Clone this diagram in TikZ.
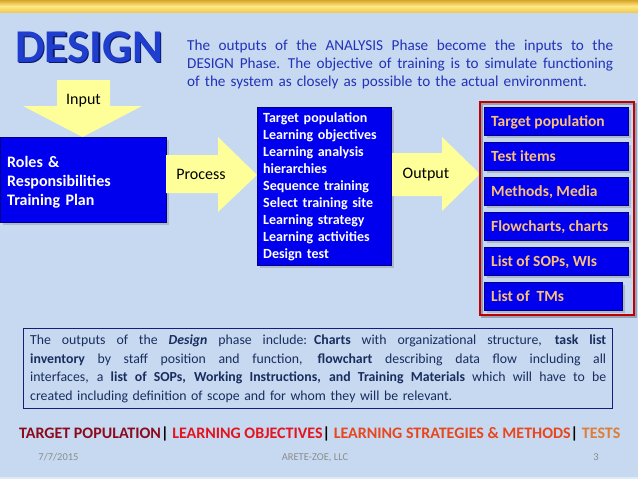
\documentclass[tikz,border=0pt]{standalone}
\usepackage{fontspec}
\setmainfont{Carlito}
\usetikzlibrary{shadows}
\definecolor{bgblue}{RGB}{198,217,240}
\definecolor{boxblue}{RGB}{0,0,238}
\definecolor{boxedge}{RGB}{0,0,140}
\definecolor{arrowyellow}{RGB}{255,255,153}
\definecolor{titleblue}{RGB}{32,62,205}
\definecolor{titledark}{RGB}{10,25,110}
\definecolor{paratext}{RGB}{35,50,185}
\definecolor{navytext}{RGB}{25,45,95}
\definecolor{navyedge}{RGB}{20,30,120}
\definecolor{outtext}{RGB}{250,192,120}
\definecolor{framered}{RGB}{192,0,0}
\definecolor{darkred}{RGB}{140,10,30}
\definecolor{brightred}{RGB}{228,20,30}
\definecolor{orangered}{RGB}{232,70,30}
\definecolor{tanorange}{RGB}{222,125,55}
\definecolor{footgray}{RGB}{140,140,140}
\definecolor{goldtop}{RGB}{215,165,40}
\definecolor{goldmid}{RGB}{255,232,130}
\definecolor{goldbot}{RGB}{240,205,90}
\newcommand{\jl}[2]{\leavevmode\hbox to #1{\spaceskip=\fontdimen2\font plus 1fil\relax #2}}
\begin{document}
\begin{tikzpicture}[x=1pt,y=-1pt,
  bluebox/.style={draw=boxedge, line width=0.6pt, fill=boxblue, inner sep=0pt,
    drop shadow={shadow xshift=2.5pt, shadow yshift=-2.5pt, opacity=0.35}},
  outbox/.style={bluebox, minimum height=28pt, anchor=north west},
  outlabel/.style={anchor=base west, inner sep=0pt, text=outtext,
    font=\fontsize{15.5}{18}\selectfont\bfseries},
  yarrow/.style={fill=arrowyellow, draw=none},
  arrowlabel/.style={anchor=base, inner sep=0pt, font=\fontsize{16}{19}\selectfont},
  whitetext/.style={anchor=base west, inner sep=0pt, text=white, align=left},
  footer/.style={anchor=base, inner sep=0pt, text=footgray, font=\fontsize{10.5}{12}\selectfont}
]
\useasboundingbox (0,0) rectangle (638,479);
\fill[bgblue] (0,0) rectangle (638,479);
% top band
\shade[top color=goldtop, bottom color=goldbot, middle color=goldmid] (0,0) rectangle (638,12);
\fill[white, opacity=0.45] (0,476.5) rectangle (638,479);

% title
\node[anchor=base west, inner sep=0pt, text=titledark, font=\fontsize{47}{50}\selectfont\bfseries] (titleshadow) at (16.6,63.6) {DESIGN};
\node[anchor=base west, inner sep=0pt, text=titleblue, font=\fontsize{47}{50}\selectfont\bfseries] (title) at (15,62) {DESIGN};

% top paragraph
\node[anchor=base west, inner sep=0pt, text width=426pt, align=left, text=paratext,
  font=\fontsize{15.2}{18}\selectfont] (intro) at (187,50.5)
  {\jl{426pt}{The outputs of the ANALYSIS Phase become the inputs to the}\\
   \jl{426pt}{DESIGN Phase. The objective of training is to simulate functioning}\\
   of the system as closely as possible to the actual environment.};

% input arrow
\fill[yarrow] (57,80) -- (110,80) -- (110,106) -- (142,106) -- (82.5,137) -- (23,106) -- (57,106) -- cycle;
\node[arrowlabel] (inputlbl) at (83.5,104.5) {Input};

% roles box
\node[bluebox, minimum width=166pt, minimum height=85pt, anchor=north west] (roles) at (0,137) {};
\node[whitetext, text width=155pt, font=\fontsize{16}{19}\selectfont\bfseries] (rolestext) at (7,167)
  {Roles \&\\Responsibilities\\Training Plan};

% process arrow
\fill[yarrow] (166,155) -- (218,155) -- (218,137) -- (257,175) -- (218,212) -- (218,193) -- (166,193) -- cycle;
\node[arrowlabel] (processlbl) at (201,179) {Process};

% middle box
\node[bluebox, minimum width=134pt, minimum height=158pt, anchor=north west] (tasks) at (257,107) {};
\node[whitetext, text width=126pt, font=\fontsize{14}{17}\selectfont\bfseries] (taskstext) at (263,122.7)
  {Target population\\Learning objectives\\Learning analysis\\hierarchies\\Sequence training\\Select training site\\Learning strategy\\Learning activities\\Design test};

% output arrow
\fill[yarrow] (392,153) -- (442,153) -- (442,137) -- (480,174) -- (442,211) -- (442,196) -- (392,196) -- cycle;
\node[arrowlabel] (outputlbl) at (426,178) {Output};

% red frame and outputs
\draw[black, opacity=0.25, line width=1.5pt] (482,104) rectangle (636,317);
\draw[framered, line width=1.3pt] (480,102) rectangle (634,315);
\node[outbox, minimum width=144pt] (o1) at (484,107) {};
\node[outbox, minimum width=144pt] (o2) at (484,142) {};
\node[outbox, minimum width=144pt] (o3) at (484,177) {};
\node[outbox, minimum width=144pt] (o4) at (484,212) {};
\node[outbox, minimum width=144pt] (o5) at (484,247) {};
\node[outbox, minimum width=138pt] (o6) at (484,282) {};
\node[outlabel] (t1) at (491,126.5) {Target population};
\node[outlabel] (t2) at (491,161.5) {Test items};
\node[outlabel] (t3) at (491,196.5) {Methods, Media};
\node[outlabel] (t4) at (491,231.5) {Flowcharts, charts};
\node[outlabel] (t5) at (491,266.5) {List of SOPs, WIs};
\node[outlabel] (t6) at (491,301.5) {List of~~TMs};

% bottom paragraph
\draw[navyedge, line width=0.8pt] (23,328) rectangle (612,408);
\node[anchor=base west, inner sep=0pt, text width=576pt, align=left, text=navytext,
  font=\fontsize{13.8}{18.7}\selectfont] (summary) at (30,344.5)
  {\jl{576pt}{The outputs of the \textbf{\textit{Design}} phase include: \textbf{Charts} with organizational structure, \textbf{task list}}\\
   \jl{576pt}{\textbf{inventory} by staff position and function, \textbf{flowchart} describing data flow including all}\\
   \jl{576pt}{interfaces, a \textbf{list of SOPs, Working Instructions, and Training Materials} which will have to be}\\
   created including definition of scope and for whom they will be relevant.};

% keywords line
\node[anchor=base west, inner sep=0pt, font=\fontsize{16}{19}\selectfont\bfseries] (keywords) at (19,438.5)
  {\textcolor{darkred}{TARGET POPULATION}\textcolor{black}{|} \textcolor{brightred}{LEARNING OBJECTIVES}\textcolor{black}{|} \textcolor{orangered}{LEARNING STRATEGIES \& METHODS}\textcolor{black}{|} \textcolor{tanorange}{TESTS}};

% footer
\node[footer] (date) at (58.5,460) {7/7/2015};
\node[footer] (company) at (315,460) {ARETE-ZOE, LLC};
\node[footer] (page) at (596,460) {3};
\end{tikzpicture}
\end{document}
